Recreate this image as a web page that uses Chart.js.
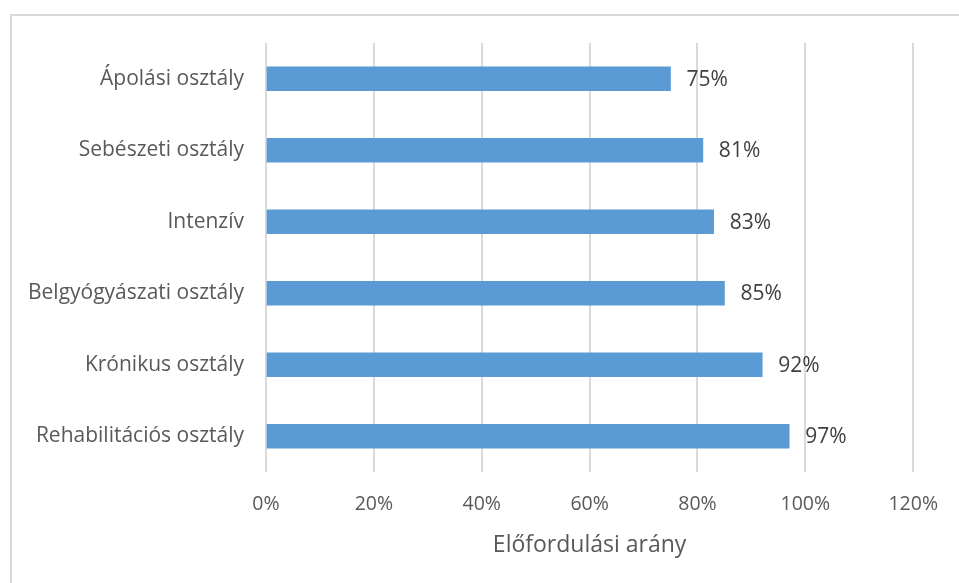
<!DOCTYPE html>
<html>
<head>
<meta charset="utf-8">
<script src="https://cdn.jsdelivr.net/npm/chart.js@4/dist/chart.umd.min.js"></script>
<style>
  html, body { margin: 0; padding: 0; background: #fff; overflow: hidden; }
  #frame { position: absolute; left: 10px; top: 14px; width: 1000px; height: 700px; border: 2px solid #d9d9d9; box-sizing: border-box; }
  #wrap { position: absolute; left: 0; top: 0; width: 959px; height: 583px; }
</style>
</head>
<body>
<div id="frame"></div>
<div id="wrap"><canvas id="c" width="959" height="583"></canvas></div>
<script>
const categories = ["Ápolási osztály", "Sebészeti osztály", "Intenzív", "Belgyógyászati osztály", "Krónikus osztály", "Rehabilitációs osztály"];
const values = [75, 81, 83, 85, 92, 97];
const xTicks = [0, 20, 40, 60, 80, 100, 120];
const axisTitle = "Előfordulási arány";

const FONT = "'Open Sans', 'Liberation Sans', Arial, sans-serif";

const valueLabels = {
  id: 'valueLabels',
  afterDatasetsDraw(chart) {
    const ctx = chart.ctx;
    const meta = chart.getDatasetMeta(0);
    ctx.save();
    ctx.font = "21px " + FONT;
    ctx.fillStyle = "#404040";
    ctx.textAlign = "left";
    ctx.textBaseline = "middle";
    meta.data.forEach((bar, i) => {
      ctx.fillText(values[i] + "%", bar.x + 16, bar.y + 1);
    });
    ctx.restore();
  }
};

new Chart(document.getElementById('c'), {
  type: 'bar',
  data: {
    labels: categories,
    datasets: [{
      data: values,
      backgroundColor: '#5B9BD5',
      borderWidth: 0,
      barThickness: 24
    }]
  },
  options: {
    indexAxis: 'y',
    responsive: false,
    animation: false,
    devicePixelRatio: 1,
    layout: { padding: { left: 0, right: 44, top: 43, bottom: 24 } },
    plugins: { legend: { display: false }, tooltip: { enabled: false } },
    scales: {
      x: {
        min: 0, max: 120,
        afterBuildTicks(scale) { scale.ticks = xTicks.map(v => ({ value: v })); },
        afterFit(scale) { scale.height = 87; },
        grid: { color: '#d9d9d9', lineWidth: 2, drawTicks: false },
        border: { display: false },
        ticks: {
          color: '#595959',
          font: { family: FONT, size: 19.5 },
          padding: 21,
          callback: (v) => v + '%'
        },
        title: {
          display: true,
          text: axisTitle,
          color: '#595959',
          font: { family: FONT, size: 23 },
          padding: { top: 0, bottom: 0 }
        }
      },
      y: {
        afterFit(scale) { scale.width = 266; },
        grid: { display: false, drawTicks: false },
        border: { display: false },
        ticks: {
          color: '#595959',
          font: { family: FONT, size: 21 },
          padding: 22
        }
      }
    }
  },
  plugins: [valueLabels]
});
</script>
</body>
</html>
